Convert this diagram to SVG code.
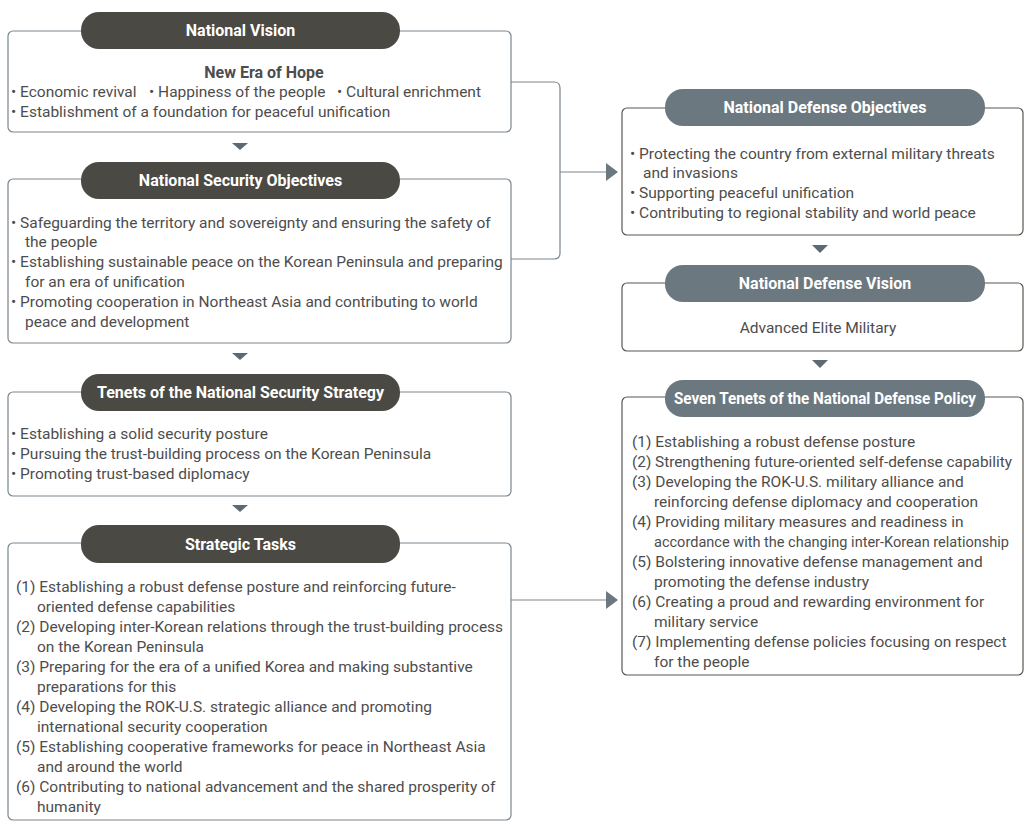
<svg xmlns="http://www.w3.org/2000/svg" width="1024" height="824" viewBox="0 0 1024 824">
<defs>
<style>
.boxL{fill:#fff;stroke:#7b868e;stroke-width:1.2}
.boxR{fill:#fff;stroke:#5b5750;stroke-width:1.2}
.pillL{fill:#4b4943}
.pillR{fill:#6c7880}
.hd{font-family:Roboto,"Liberation Sans",sans-serif;font-weight:bold;font-size:16px;fill:#fff;text-anchor:middle}
.tx{font-family:Roboto,"Liberation Sans",sans-serif;font-size:15.5px;fill:#4d4d4d}
.bd{font-family:Roboto,"Liberation Sans",sans-serif;font-size:16px;font-weight:bold;fill:#4d4d4d}
.tri{fill:#5d6a73}
.con{fill:none;stroke:#7b868e;stroke-width:1.2}
.ah{fill:#6c7880}
</style>
</defs>
<g id="connectors">
<path class="con" d="M511,82 H554 Q560,82 560,88 V253 Q560,259 554,259 H511"/>
<path class="con" d="M560,172 H607"/>
<polygon class="ah" points="606,163 618,172 606,181"/>
<path class="con" d="M511,600 H607"/>
<polygon class="ah" points="606,591 618,600 606,609"/>
<polygon class="tri" points="232,143 248,143 240,150"/>
<polygon class="tri" points="232,353 248,353 240,360"/>
<polygon class="tri" points="232,505 248,505 240,512"/>
<polygon class="tri" points="812,245 828,245 820,253"/>
<polygon class="tri" points="812,360 828,360 820,368"/>
</g>
<g id="national-vision">
<rect class="boxL" x="8" y="31" width="503" height="101" rx="5"/>
<rect class="pillL" x="81" y="12" width="319" height="37" rx="18"/>
<text class="hd" x="240.5" y="36">National Vision</text>
<text class="bd" x="264" y="78" text-anchor="middle">New Era of Hope</text>
<text class="tx" x="11" y="97">• Economic revival</text>
<text class="tx" x="149" y="97">• Happiness of the people</text>
<text class="tx" x="337" y="97">• Cultural enrichment</text>
<text class="tx" x="11" y="117">• Establishment of a foundation for peaceful unification</text>
</g>
<g id="national-security-objectives">
<rect class="boxL" x="8" y="179" width="503" height="164" rx="5"/>
<rect class="pillL" x="81" y="162" width="319" height="37" rx="18"/>
<text class="hd" x="240.5" y="186">National Security Objectives</text>
<text class="tx" x="11" y="228">• Safeguarding the territory and sovereignty and ensuring the safety of</text>
<text class="tx" x="25" y="247">the people</text>
<text class="tx" x="11" y="267">• Establishing sustainable peace on the Korean Peninsula and preparing</text>
<text class="tx" x="25" y="287">for an era of unification</text>
<text class="tx" x="11" y="307">• Promoting cooperation in Northeast Asia and contributing to world</text>
<text class="tx" x="25" y="327">peace and development</text>
</g>
<g id="tenets-nss">
<rect class="boxL" x="8" y="392" width="503" height="104" rx="5"/>
<rect class="pillL" x="81" y="374" width="319" height="37" rx="18"/>
<text class="hd" x="240.5" y="398">Tenets of the National Security Strategy</text>
<text class="tx" x="11" y="439">• Establishing a solid security posture</text>
<text class="tx" x="11" y="459">• Pursuing the trust-building process on the Korean Peninsula</text>
<text class="tx" x="11" y="479">• Promoting trust-based diplomacy</text>
</g>
<g id="strategic-tasks">
<rect class="boxL" x="8" y="543" width="503" height="277" rx="5"/>
<rect class="pillL" x="81" y="525" width="319" height="38" rx="18"/>
<text class="hd" x="240.5" y="549.5">Strategic Tasks</text>
<text class="tx" x="16" y="592">(1) Establishing a robust defense posture and reinforcing future-</text>
<text class="tx" x="37" y="612">oriented defense capabilities</text>
<text class="tx" x="16" y="632">(2) Developing inter-Korean relations through the trust-building process</text>
<text class="tx" x="37" y="652">on the Korean Peninsula</text>
<text class="tx" x="16" y="672">(3) Preparing for the era of a unified Korea and making substantive</text>
<text class="tx" x="37" y="692">preparations for this</text>
<text class="tx" x="16" y="712">(4) Developing the ROK-U.S. strategic alliance and promoting</text>
<text class="tx" x="37" y="732">international security cooperation</text>
<text class="tx" x="16" y="752">(5) Establishing cooperative frameworks for peace in Northeast Asia</text>
<text class="tx" x="37" y="772">and around the world</text>
<text class="tx" x="16" y="792">(6) Contributing to national advancement and the shared prosperity of</text>
<text class="tx" x="37" y="812">humanity</text>
</g>
<g id="national-defense-objectives">
<rect class="boxR" x="622" y="108" width="401" height="127" rx="5"/>
<rect class="pillR" x="665" y="89" width="320" height="37" rx="18"/>
<text class="hd" x="825" y="113">National Defense Objectives</text>
<text class="tx" x="630" y="159">• Protecting the country from external military threats</text>
<text class="tx" x="643" y="178">and invasions</text>
<text class="tx" x="630" y="198">• Supporting peaceful unification</text>
<text class="tx" x="630" y="218">• Contributing to regional stability and world peace</text>
</g>
<g id="national-defense-vision">
<rect class="boxR" x="622" y="283" width="401" height="68" rx="5"/>
<rect class="pillR" x="665" y="265" width="320" height="37" rx="18"/>
<text class="hd" x="825" y="289">National Defense Vision</text>
<text class="tx" x="818" y="333" text-anchor="middle">Advanced Elite Military</text>
</g>
<g id="seven-tenets">
<rect class="boxR" x="622" y="397" width="401" height="278" rx="5"/>
<rect class="pillR" x="665" y="380" width="320" height="37" rx="18"/>
<text class="hd" x="825" y="404" textLength="302" lengthAdjust="spacingAndGlyphs">Seven Tenets of the National Defense Policy</text>
<text class="tx" x="632" y="447">(1) Establishing a robust defense posture</text>
<text class="tx" x="632" y="467" textLength="380" lengthAdjust="spacingAndGlyphs">(2) Strengthening future-oriented self-defense capability</text>
<text class="tx" x="632" y="487">(3) Developing the ROK-U.S. military alliance and</text>
<text class="tx" x="654" y="507">reinforcing defense diplomacy and cooperation</text>
<text class="tx" x="632" y="527">(4) Providing military measures and readiness in</text>
<text class="tx" x="654" y="547" style="font-size:15px" textLength="355" lengthAdjust="spacingAndGlyphs">accordance with the changing inter-Korean relationship</text>
<text class="tx" x="632" y="567">(5) Bolstering innovative defense management and</text>
<text class="tx" x="654" y="587">promoting the defense industry</text>
<text class="tx" x="632" y="607">(6) Creating a proud and rewarding environment for</text>
<text class="tx" x="654" y="627">military service</text>
<text class="tx" x="632" y="647">(7) Implementing defense policies focusing on respect</text>
<text class="tx" x="654" y="667">for the people</text>
</g>
</svg>
